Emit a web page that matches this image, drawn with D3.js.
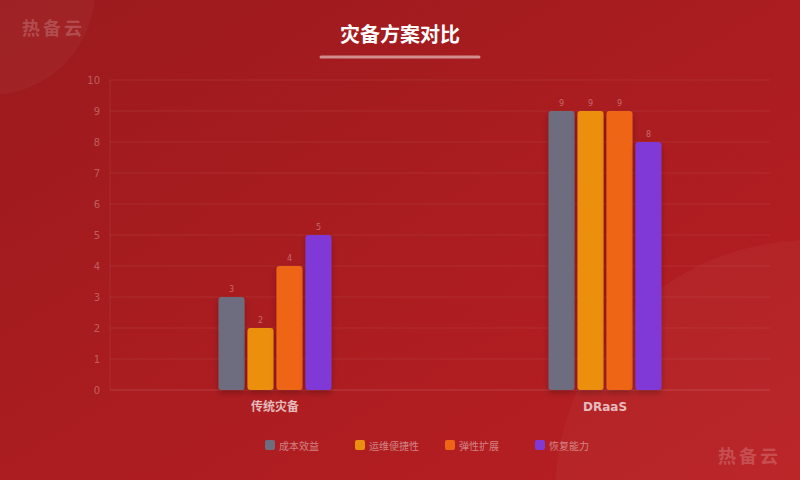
<!DOCTYPE html>
<html><head><meta charset="utf-8">
<script src="https://cdn.jsdelivr.net/npm/d3@7"></script>
<style>html,body{margin:0;padding:0;background:#a51c1f;}svg{display:block;font-family:"DejaVu Sans","Noto Sans CJK SC",sans-serif;}</style>
</head><body><svg id="c" width="800" height="480"></svg>
<script>
const categories = ["传统灾备", "DRaaS"];
const seriesNames = ["成本效益", "运维便捷性", "弹性扩展", "恢复能力"];
const seriesColors = ["#6e6d80", "#ec8f10", "#ef6518", "#8038d6"];
const costValues = [3, 9];
const opsValues = [2, 9];
const scaleValues = [4, 9];
const recoveryValues = [5, 8];
const yTicks = [0,1,2,3,4,5,6,7,8,9,10];
const title = "灾备方案对比";
const watermark = "热备云";

const seriesValues = [costValues, opsValues, scaleValues, recoveryValues];
const svg = d3.select("#c");
const defs = svg.append("defs");
const bg = defs.append("linearGradient").attr("id","bg").attr("x1","0").attr("y1","0").attr("x2","1").attr("y2","1");
bg.append("stop").attr("offset","0").attr("stop-color","#9b1a1d");
bg.append("stop").attr("offset","1").attr("stop-color","#b91f23");
const sh = defs.append("filter").attr("id","sh").attr("x","-30%").attr("y","-10%").attr("width","160%").attr("height","130%");
sh.append("feDropShadow").attr("dx",0).attr("dy",3).attr("stdDeviation",3).attr("flood-color","#000").attr("flood-opacity",0.25);

svg.append("rect").attr("width",800).attr("height",480).attr("fill","url(#bg)");
svg.append("circle").attr("cx",-10).attr("cy",-10).attr("r",105).attr("fill","rgba(255,255,255,0.04)");
svg.append("circle").attr("cx",810).attr("cy",495).attr("r",255).attr("fill","rgba(255,255,255,0.03)");

// watermarks
svg.append("text").attr("x",22).attr("y",35).text(watermark).attr("font-size",18).attr("font-weight","bold").attr("letter-spacing",3).attr("fill","rgba(255,255,255,0.2)");
svg.append("text").attr("x",718).attr("y",463).text(watermark).attr("font-size",18).attr("font-weight","bold").attr("letter-spacing",3).attr("fill","rgba(255,255,255,0.2)");

// title
svg.append("text").attr("x",400).attr("y",42).attr("text-anchor","middle").text(title).attr("font-size",20).attr("font-weight","bold").attr("fill","#fff");
svg.append("line").attr("x1",321).attr("x2",479).attr("y1",57).attr("y2",57).attr("stroke","rgba(255,255,255,0.5)").attr("stroke-width",3).attr("stroke-linecap","round");

const m = {l:110, r:770, t:80, b:390};
const x0 = d3.scaleBand().domain(categories).range([m.l, m.r]);
const x1 = d3.scaleBand().domain(seriesNames).range([0, 113]).paddingInner(0.1);
const y = d3.scaleLinear().domain([0,10]).range([m.b, m.t]);

// grid
svg.append("g").selectAll("line").data(yTicks.filter(d=>d>0)).join("line")
  .attr("x1",m.l).attr("x2",m.r).attr("y1",d=>y(d)).attr("y2",d=>y(d))
  .attr("stroke","rgba(255,255,255,0.07)");
svg.append("line").attr("x1",m.l).attr("x2",m.l).attr("y1",m.t).attr("y2",m.b).attr("stroke","rgba(255,255,255,0.07)");
svg.append("line").attr("x1",m.l).attr("x2",m.r).attr("y1",m.b).attr("y2",m.b).attr("stroke","rgba(255,255,255,0.15)");

// y tick labels
const yAxis = svg.append("g").attr("transform",`translate(${m.l},0)`).call(d3.axisLeft(y).tickValues(yTicks).tickSize(0).tickPadding(10));
yAxis.select(".domain").remove();
yAxis.selectAll("text").attr("font-size",10).attr("fill","rgba(255,255,255,0.3)").attr("font-family","DejaVu Sans");

// x axis labels
const xAxis = svg.append("g").attr("transform",`translate(0,${m.b})`).call(d3.axisBottom(x0).tickSize(0).tickPadding(12));
xAxis.select(".domain").remove();
xAxis.selectAll("text").attr("font-size",12).attr("font-weight","bold").attr("fill","rgba(255,255,255,0.7)").attr("font-family","DejaVu Sans, Noto Sans CJK SC");

// bars
const groups = svg.append("g").selectAll("g").data(categories).join("g")
  .attr("transform",c=>`translate(${x0(c)+x0.bandwidth()/2-56.5},0)`);
groups.each(function(c,ci){
  const g = d3.select(this);
  seriesNames.forEach((s,si)=>{
    const v = seriesValues[si][ci];
    g.append("rect").attr("x",x1(s)).attr("y",y(v)).attr("width",x1.bandwidth()).attr("height",y(0)-y(v))
      .attr("rx",3).attr("fill",seriesColors[si]).attr("filter","url(#sh)");
    g.append("text").attr("x",x1(s)+x1.bandwidth()/2).attr("y",y(v)-5).attr("text-anchor","middle")
      .attr("font-size",8).attr("font-family","DejaVu Sans").attr("fill","rgba(255,255,255,0.35)").text(v);
  });
});

// legend
const lg = svg.append("g").selectAll("g").data(seriesNames).join("g").attr("transform",(d,i)=>`translate(${265+i*90},440)`);
lg.append("rect").attr("width",10).attr("height",10).attr("rx",2).attr("fill",(d,i)=>seriesColors[i]);
lg.append("text").attr("x",14).attr("y",9.5).attr("font-size",10).attr("fill","rgba(255,255,255,0.45)").text(d=>d);
</script></body></html>
